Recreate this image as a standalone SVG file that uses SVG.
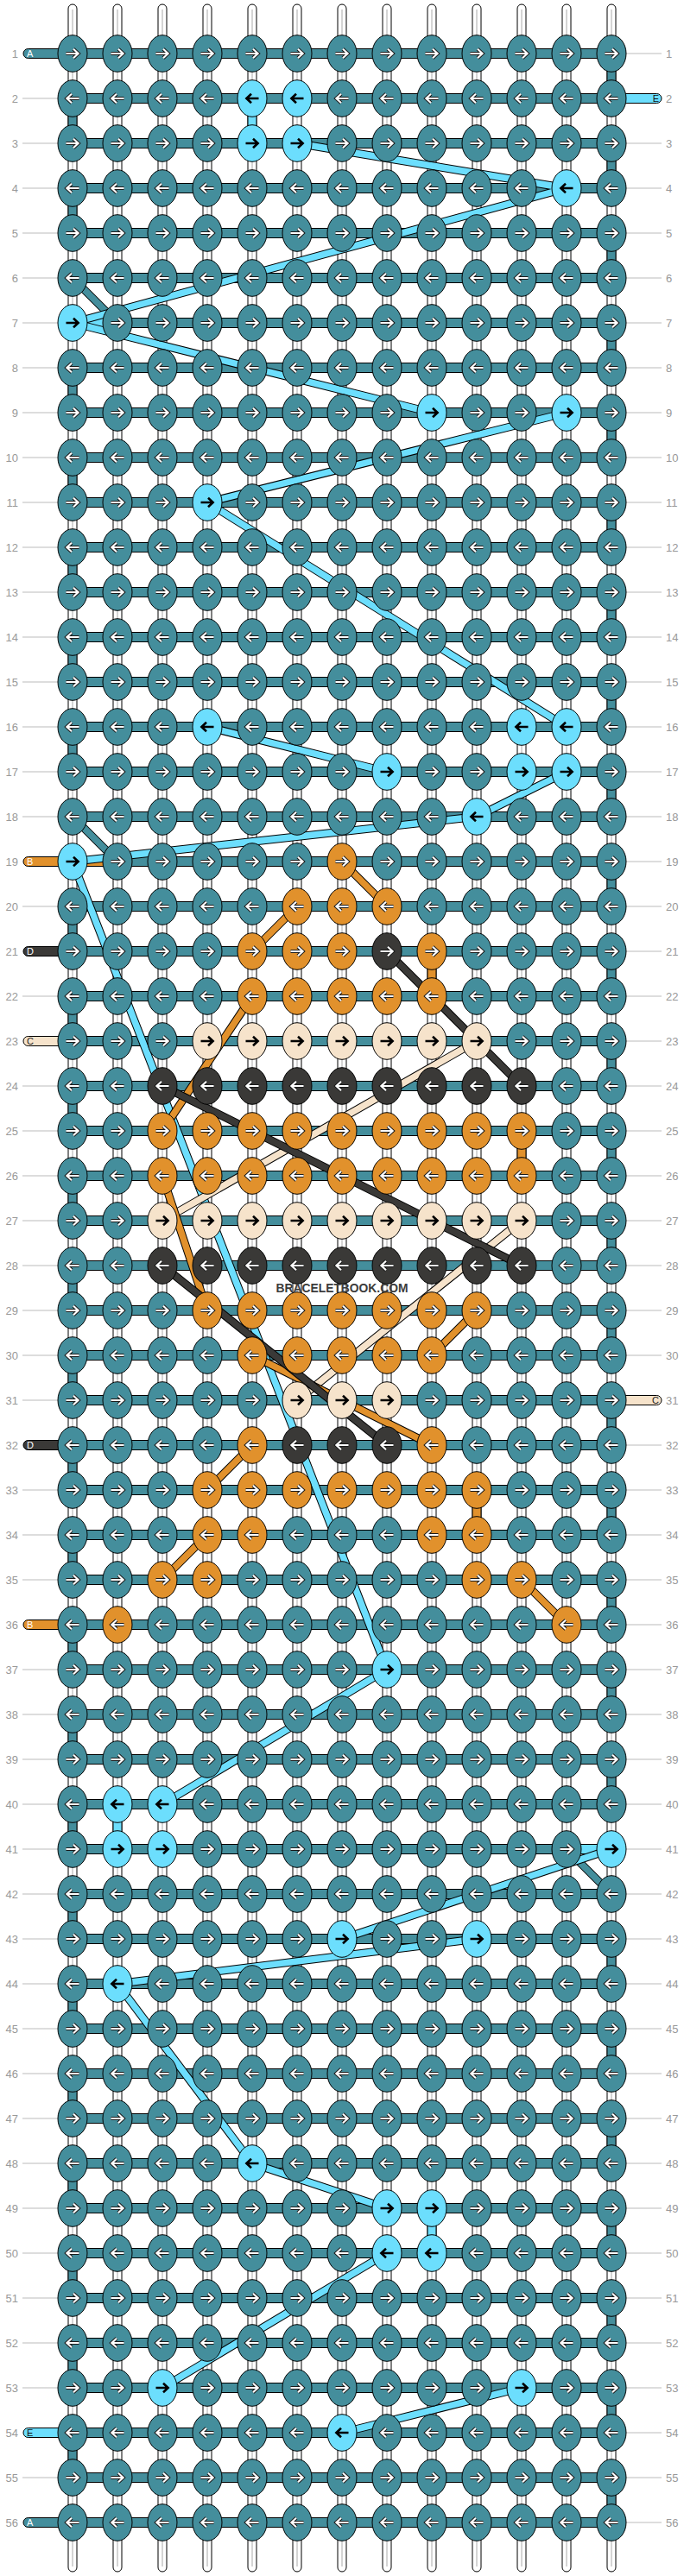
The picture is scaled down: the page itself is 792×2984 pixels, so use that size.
<svg xmlns="http://www.w3.org/2000/svg" width="792" height="2984" viewBox="0 0 792 2984">
<style>
.t{fill:#448e9c}.l{fill:#6cdefd}.o{fill:#e1912c}.c{fill:#f6e3cb}.d{fill:#3a3937}
.k{stroke:#000;stroke-width:1}
.ao{fill:none;stroke:#1a1a1a;stroke-width:4.2}
.aw{fill:none;stroke:#fff;stroke-width:2.2}
.ab{fill:none;stroke:#000;stroke-width:2.6}
.vw{fill:#fff;stroke:#000;stroke-width:1}
.cl{fill:none;stroke:#aaa;stroke-width:1}
.gl{fill:none;stroke:#bbb;stroke-width:1}
.num{font-family:"Liberation Sans",Arial,sans-serif;font-size:13px;fill:#999}
.tl{font-family:"Liberation Sans",Arial,sans-serif;font-size:11px}
.lo{fill:none;stroke:#000;stroke-width:9.5}
.li{fill:none;stroke-width:7.5}
.sT{stroke:#448e9c}.sL{stroke:#6cdefd}.sO{stroke:#e1912c}.sC{stroke:#f6e3cb}.sD{stroke:#3a3937}
.wm{font-family:"Liberation Sans",Arial,sans-serif;font-weight:bold;font-size:15px;fill:#3c3c3c}
</style>
<defs>
<path id="ar" d="M-7.5,0H6M1,-5.2L6.6,0L1,5.2"/>
<path id="al" d="M7.5,0H-6M-1,-5.2L-6.6,0L-1,5.2"/>
<g id="tR"><ellipse rx="17" ry="21.3" class="t k"/><use href="#ar" class="ao"/><use href="#ar" class="aw"/></g>
<g id="tL"><ellipse rx="17" ry="21.3" class="t k"/><use href="#al" class="ao"/><use href="#al" class="aw"/></g>
<g id="lR"><ellipse rx="17" ry="21.3" class="l k"/><use href="#ar" class="ab"/></g>
<g id="lL"><ellipse rx="17" ry="21.3" class="l k"/><use href="#al" class="ab"/></g>
<g id="oR"><ellipse rx="17" ry="21.3" class="o k"/><use href="#ar" class="ao"/><use href="#ar" class="aw"/></g>
<g id="oL"><ellipse rx="17" ry="21.3" class="o k"/><use href="#al" class="ao"/><use href="#al" class="aw"/></g>
<g id="cR"><ellipse rx="17" ry="21.3" class="c k"/><use href="#ar" class="ab"/></g>
<g id="cL"><ellipse rx="17" ry="21.3" class="c k"/><use href="#al" class="ab"/></g>
<g id="dR"><ellipse rx="17" ry="21.3" class="d k"/><use href="#ar" class="ao"/><use href="#ar" class="aw"/></g>
<g id="dL"><ellipse rx="17" ry="21.3" class="d k"/><use href="#al" class="ao"/><use href="#al" class="aw"/></g>
</defs>
<rect width="792" height="2984" fill="#fff"/>
<g id="labels">
<path class="gl" d="M26,114H67M26,166H67M26,218H67M26,270H67M26,322H67M26,374H67M26,426H67M26,478H67M26,530H67M26,582H67M26,634H67M26,686H67M26,738H67M26,790H67M26,842H67M26,894H67M26,946H67M26,1050H67M26,1154H67M26,1258H67M26,1310H67M26,1362H67M26,1414H67M26,1466H67M26,1518H67M26,1570H67M26,1622H67M26,1726H67M26,1778H67M26,1830H67M26,1934H67M26,1986H67M26,2038H67M26,2090H67M26,2142H67M26,2194H67M26,2246H67M26,2298H67M26,2350H67M26,2402H67M26,2454H67M26,2506H67M26,2558H67M26,2610H67M26,2662H67M26,2714H67M26,2766H67M26,2870H67
M725,62H766M725,166H766M725,218H766M725,270H766M725,322H766M725,374H766M725,426H766M725,478H766M725,530H766M725,582H766M725,634H766M725,686H766M725,738H766M725,790H766M725,842H766M725,894H766M725,946H766M725,998H766M725,1050H766M725,1102H766M725,1154H766M725,1206H766M725,1258H766M725,1310H766M725,1362H766M725,1414H766M725,1466H766M725,1518H766M725,1570H766M725,1674H766M725,1726H766M725,1778H766M725,1830H766M725,1882H766M725,1934H766M725,1986H766M725,2038H766M725,2090H766M725,2142H766M725,2194H766M725,2246H766M725,2298H766M725,2350H766M725,2402H766M725,2454H766M725,2506H766M725,2558H766M725,2610H766M725,2662H766M725,2714H766M725,2766H766M725,2818H766M725,2870H766M725,2922H766"/>
<g class="num" text-anchor="end">
<text x="21" y="66.5">1</text><text x="21" y="118.5">2</text><text x="21" y="170.5">3</text><text x="21" y="222.5">4</text><text x="21" y="274.5">5</text><text x="21" y="326.5">6</text><text x="21" y="378.5">7</text><text x="21" y="430.5">8</text><text x="21" y="482.5">9</text><text x="21" y="534.5">10</text><text x="21" y="586.5">11</text><text x="21" y="638.5">12</text><text x="21" y="690.5">13</text><text x="21" y="742.5">14</text><text x="21" y="794.5">15</text><text x="21" y="846.5">16</text><text x="21" y="898.5">17</text><text x="21" y="950.5">18</text><text x="21" y="1002.5">19</text><text x="21" y="1054.5">20</text><text x="21" y="1106.5">21</text><text x="21" y="1158.5">22</text><text x="21" y="1210.5">23</text><text x="21" y="1262.5">24</text><text x="21" y="1314.5">25</text><text x="21" y="1366.5">26</text><text x="21" y="1418.5">27</text><text x="21" y="1470.5">28</text><text x="21" y="1522.5">29</text><text x="21" y="1574.5">30</text><text x="21" y="1626.5">31</text><text x="21" y="1678.5">32</text><text x="21" y="1730.5">33</text><text x="21" y="1782.5">34</text><text x="21" y="1834.5">35</text><text x="21" y="1886.5">36</text><text x="21" y="1938.5">37</text><text x="21" y="1990.5">38</text><text x="21" y="2042.5">39</text><text x="21" y="2094.5">40</text><text x="21" y="2146.5">41</text><text x="21" y="2198.5">42</text><text x="21" y="2250.5">43</text><text x="21" y="2302.5">44</text><text x="21" y="2354.5">45</text><text x="21" y="2406.5">46</text><text x="21" y="2458.5">47</text><text x="21" y="2510.5">48</text><text x="21" y="2562.5">49</text><text x="21" y="2614.5">50</text><text x="21" y="2666.5">51</text><text x="21" y="2718.5">52</text><text x="21" y="2770.5">53</text><text x="21" y="2822.5">54</text><text x="21" y="2874.5">55</text><text x="21" y="2926.5">56</text>
</g>
<g class="num">
<text x="771" y="66.5">1</text><text x="771" y="118.5">2</text><text x="771" y="170.5">3</text><text x="771" y="222.5">4</text><text x="771" y="274.5">5</text><text x="771" y="326.5">6</text><text x="771" y="378.5">7</text><text x="771" y="430.5">8</text><text x="771" y="482.5">9</text><text x="771" y="534.5">10</text><text x="771" y="586.5">11</text><text x="771" y="638.5">12</text><text x="771" y="690.5">13</text><text x="771" y="742.5">14</text><text x="771" y="794.5">15</text><text x="771" y="846.5">16</text><text x="771" y="898.5">17</text><text x="771" y="950.5">18</text><text x="771" y="1002.5">19</text><text x="771" y="1054.5">20</text><text x="771" y="1106.5">21</text><text x="771" y="1158.5">22</text><text x="771" y="1210.5">23</text><text x="771" y="1262.5">24</text><text x="771" y="1314.5">25</text><text x="771" y="1366.5">26</text><text x="771" y="1418.5">27</text><text x="771" y="1470.5">28</text><text x="771" y="1522.5">29</text><text x="771" y="1574.5">30</text><text x="771" y="1626.5">31</text><text x="771" y="1678.5">32</text><text x="771" y="1730.5">33</text><text x="771" y="1782.5">34</text><text x="771" y="1834.5">35</text><text x="771" y="1886.5">36</text><text x="771" y="1938.5">37</text><text x="771" y="1990.5">38</text><text x="771" y="2042.5">39</text><text x="771" y="2094.5">40</text><text x="771" y="2146.5">41</text><text x="771" y="2198.5">42</text><text x="771" y="2250.5">43</text><text x="771" y="2302.5">44</text><text x="771" y="2354.5">45</text><text x="771" y="2406.5">46</text><text x="771" y="2458.5">47</text><text x="771" y="2510.5">48</text><text x="771" y="2562.5">49</text><text x="771" y="2614.5">50</text><text x="771" y="2666.5">51</text><text x="771" y="2718.5">52</text><text x="771" y="2770.5">53</text><text x="771" y="2822.5">54</text><text x="771" y="2874.5">55</text><text x="771" y="2926.5">56</text>
</g>
</g>
<g id="connectors">
<g id="strands">
<rect class="vw" x="79" y="5" width="10" height="2974" rx="5"/><rect class="vw" x="131" y="5" width="10" height="2974" rx="5"/><rect class="vw" x="183" y="5" width="10" height="2974" rx="5"/><rect class="vw" x="235" y="5" width="10" height="2974" rx="5"/><rect class="vw" x="287" y="5" width="10" height="2974" rx="5"/><rect class="vw" x="339" y="5" width="10" height="2974" rx="5"/><rect class="vw" x="391" y="5" width="10" height="2974" rx="5"/><rect class="vw" x="443" y="5" width="10" height="2974" rx="5"/><rect class="vw" x="495" y="5" width="10" height="2974" rx="5"/><rect class="vw" x="547" y="5" width="10" height="2974" rx="5"/><rect class="vw" x="599" y="5" width="10" height="2974" rx="5"/><rect class="vw" x="651" y="5" width="10" height="2974" rx="5"/><rect class="vw" x="703" y="5" width="10" height="2974" rx="5"/>
<path class="cl" d="M84,11V2973M136,11V2973M188,11V2973M240,11V2973M292,11V2973M344,11V2973M396,11V2973M448,11V2973M500,11V2973M552,11V2973M604,11V2973M656,11V2973M708,11V2973"/>
</g>
<g id="turns">
<path class="t k" d="M79,114h10v52h-10zM79,218h10v52h-10zM79,426h10v52h-10zM79,530h10v52h-10zM79,634h10v52h-10zM79,738h10v52h-10zM79,842h10v52h-10zM79,1050h10v52h-10zM79,1154h10v52h-10zM79,1258h10v52h-10zM79,1362h10v52h-10zM79,1466h10v52h-10zM79,1570h10v52h-10zM79,1674h10v52h-10zM79,1778h10v52h-10zM79,1882h10v52h-10zM79,1986h10v52h-10zM79,2090h10v52h-10zM79,2194h10v52h-10zM79,2298h10v52h-10zM79,2402h10v52h-10zM79,2506h10v52h-10zM79,2610h10v52h-10zM79,2714h10v52h-10zM79,2818h10v52h-10z
M703,62h10v52h-10zM703,166h10v52h-10zM703,270h10v52h-10zM703,374h10v52h-10zM703,478h10v52h-10zM703,582h10v52h-10zM703,686h10v52h-10zM703,790h10v52h-10zM703,894h10v52h-10zM703,998h10v52h-10zM703,1102h10v52h-10zM703,1206h10v52h-10zM703,1310h10v52h-10zM703,1414h10v52h-10zM703,1518h10v52h-10zM703,1622h10v52h-10zM703,1726h10v52h-10zM703,1830h10v52h-10zM703,1934h10v52h-10zM703,2038h10v52h-10zM703,2246h10v52h-10zM703,2350h10v52h-10zM703,2454h10v52h-10zM703,2558h10v52h-10zM703,2662h10v52h-10zM703,2766h10v52h-10zM703,2870h10v52h-10z"/>
<path class="l k" d="M287,114h10v52h-10zM131,2090h10v52h-10zM495,2558h10v52h-10z"/>
<path class="o k" d="M495,1102h10v52h-10zM599,1310h10v52h-10zM547,1726h10v52h-10z"/>
</g>
<g id="tails">
<rect class="t k" x="27" y="56.5" width="50" height="11" rx="5.5"/>
<rect class="o k" x="27" y="992.5" width="50" height="11" rx="5.5"/>
<rect class="d k" x="27" y="1096.5" width="50" height="11" rx="5.5"/>
<rect class="c k" x="27" y="1200.5" width="50" height="11" rx="5.5"/>
<rect class="d k" x="27" y="1668.5" width="50" height="11" rx="5.5"/>
<rect class="o k" x="27" y="1876.5" width="50" height="11" rx="5.5"/>
<rect class="l k" x="27" y="2812.5" width="50" height="11" rx="5.5"/>
<rect class="t k" x="27" y="2916.5" width="50" height="11" rx="5.5"/>
<rect class="l k" x="715" y="108.5" width="51" height="11" rx="5.5"/>
<rect class="c k" x="715" y="1616.5" width="51" height="11" rx="5.5"/>
<g class="tl">
<text x="31" y="66" fill="#fff">A</text>
<text x="31" y="1002" fill="#fff">B</text>
<text x="31" y="1106" fill="#fff">D</text>
<text x="31" y="1210" fill="#222">C</text>
<text x="31" y="1678" fill="#fff">D</text>
<text x="31" y="1886" fill="#fff">B</text>
<text x="31" y="2822" fill="#111">E</text>
<text x="31" y="2926" fill="#fff">A</text>
<text x="763" y="118" fill="#111" text-anchor="end">E</text>
<text x="763" y="1626" fill="#222" text-anchor="end">C</text>
</g>
</g>
<path id="rows" class="t k" d="M84,56.5h624v11h-624zm0,52h624v11h-624zm0,52h624v11h-624zm0,52h624v11h-624zm0,52h624v11h-624zm0,52h624v11h-624zm0,52h624v11h-624zm0,52h624v11h-624zm0,52h624v11h-624zm0,52h624v11h-624zm0,52h624v11h-624zm0,52h624v11h-624zm0,52h624v11h-624zm0,52h624v11h-624zm0,52h624v11h-624zm0,52h624v11h-624zm0,52h624v11h-624zm0,52h624v11h-624zm0,52h624v11h-624zm0,52h624v11h-624zm0,52h624v11h-624zm0,52h624v11h-624zm0,52h624v11h-624zm0,52h624v11h-624zm0,52h624v11h-624zm0,52h624v11h-624zm0,52h624v11h-624zm0,52h624v11h-624zm0,52h624v11h-624zm0,52h624v11h-624zm0,52h624v11h-624zm0,52h624v11h-624zm0,52h624v11h-624zm0,52h624v11h-624zm0,52h624v11h-624zm0,52h624v11h-624zm0,52h624v11h-624zm0,52h624v11h-624zm0,52h624v11h-624zm0,52h624v11h-624zm0,52h624v11h-624zm0,52h624v11h-624zm0,52h624v11h-624zm0,52h624v11h-624zm0,52h624v11h-624zm0,52h624v11h-624zm0,52h624v11h-624zm0,52h624v11h-624zm0,52h624v11h-624zm0,52h624v11h-624zm0,52h624v11h-624zm0,52h624v11h-624zm0,52h624v11h-624zm0,52h624v11h-624zm0,52h624v11h-624zm0,52h624v11h-624z"/>
<rect class="o k" x="84" y="992.5" width="52" height="11"/>
<rect class="l k" x="84" y="368.5" width="52" height="11"/>
<rect class="l k" x="656" y="2136.5" width="52" height="11"/>
<g id="threadA">
<path class="lo" d="M84,322L136,374M84,946L136,998M656,2142L708,2194"/>
<path class="li sT" d="M84,322L136,374M84,946L136,998M656,2142L708,2194"/>
</g>
<g id="threadE">
<path class="lo" d="M344,166L656,218M656,218L84,374M84,374L500,478M656,478L240,582M240,582L656,842M240,842L448,894M656,894L552,946M552,946L84,998M84,998L448,1934M448,1934L188,2090M708,2142L396,2246M552,2246L136,2298M136,2298L292,2506M292,2506L448,2558M448,2610L188,2766M604,2766L396,2818"/>
<path class="li sL" d="M344,166L656,218M656,218L84,374M84,374L500,478M656,478L240,582M240,582L656,842M240,842L448,894M656,894L552,946M552,946L84,998M84,998L448,1934M448,1934L188,2090M708,2142L396,2246M552,2246L136,2298M136,2298L292,2506M292,2506L448,2558M448,2610L188,2766M604,2766L396,2818"/>
</g>
<g id="threadC">
<path class="lo" d="M552,1206L188,1414M604,1414L344,1622"/>
<path class="li sC" d="M552,1206L188,1414M604,1414L344,1622"/>
</g>
<g id="threadB">
<path class="lo" d="M396,998L448,1050M344,1050L292,1102M292,1154L188,1310M188,1362L240,1518M552,1518L500,1570M292,1570L396,1622M396,1622L500,1674M292,1674L240,1726M240,1778L188,1830M604,1830L656,1882"/>
<path class="li sO" d="M396,998L448,1050M344,1050L292,1102M292,1154L188,1310M188,1362L240,1518M552,1518L500,1570M292,1570L396,1622M396,1622L500,1674M292,1674L240,1726M240,1778L188,1830M604,1830L656,1882"/>
</g>
<g id="threadD">
<path class="lo" d="M448,1102L604,1258M188,1258L604,1466M188,1466L448,1674"/>
<path class="li sD" d="M448,1102L604,1258M188,1258L604,1466M188,1466L448,1674"/>
</g>
</g>
<g id="nodes">
<g id="row1" transform="translate(0,62)"><g id="n1-1"><use href="#tR" x="84"/></g><g id="n1-2"><use href="#tR" x="136"/></g><g id="n1-3"><use href="#tR" x="188"/></g><g id="n1-4"><use href="#tR" x="240"/></g><g id="n1-5"><use href="#tR" x="292"/></g><g id="n1-6"><use href="#tR" x="344"/></g><g id="n1-7"><use href="#tR" x="396"/></g><g id="n1-8"><use href="#tR" x="448"/></g><g id="n1-9"><use href="#tR" x="500"/></g><g id="n1-10"><use href="#tR" x="552"/></g><g id="n1-11"><use href="#tR" x="604"/></g><g id="n1-12"><use href="#tR" x="656"/></g><g id="n1-13"><use href="#tR" x="708"/></g></g>
<g id="row2" transform="translate(0,114)"><g id="n2-1"><use href="#tL" x="84"/></g><g id="n2-2"><use href="#tL" x="136"/></g><g id="n2-3"><use href="#tL" x="188"/></g><g id="n2-4"><use href="#tL" x="240"/></g><g id="n2-5"><use href="#lL" x="292"/></g><g id="n2-6"><use href="#lL" x="344"/></g><g id="n2-7"><use href="#tL" x="396"/></g><g id="n2-8"><use href="#tL" x="448"/></g><g id="n2-9"><use href="#tL" x="500"/></g><g id="n2-10"><use href="#tL" x="552"/></g><g id="n2-11"><use href="#tL" x="604"/></g><g id="n2-12"><use href="#tL" x="656"/></g><g id="n2-13"><use href="#tL" x="708"/></g></g>
<g id="row3" transform="translate(0,166)"><g id="n3-1"><use href="#tR" x="84"/></g><g id="n3-2"><use href="#tR" x="136"/></g><g id="n3-3"><use href="#tR" x="188"/></g><g id="n3-4"><use href="#tR" x="240"/></g><g id="n3-5"><use href="#lR" x="292"/></g><g id="n3-6"><use href="#lR" x="344"/></g><g id="n3-7"><use href="#tR" x="396"/></g><g id="n3-8"><use href="#tR" x="448"/></g><g id="n3-9"><use href="#tR" x="500"/></g><g id="n3-10"><use href="#tR" x="552"/></g><g id="n3-11"><use href="#tR" x="604"/></g><g id="n3-12"><use href="#tR" x="656"/></g><g id="n3-13"><use href="#tR" x="708"/></g></g>
<g id="row4" transform="translate(0,218)"><g id="n4-1"><use href="#tL" x="84"/></g><g id="n4-2"><use href="#tL" x="136"/></g><g id="n4-3"><use href="#tL" x="188"/></g><g id="n4-4"><use href="#tL" x="240"/></g><g id="n4-5"><use href="#tL" x="292"/></g><g id="n4-6"><use href="#tL" x="344"/></g><g id="n4-7"><use href="#tL" x="396"/></g><g id="n4-8"><use href="#tL" x="448"/></g><g id="n4-9"><use href="#tL" x="500"/></g><g id="n4-10"><use href="#tL" x="552"/></g><g id="n4-11"><use href="#tL" x="604"/></g><g id="n4-12"><use href="#lL" x="656"/></g><g id="n4-13"><use href="#tL" x="708"/></g></g>
<g id="row5" transform="translate(0,270)"><g id="n5-1"><use href="#tR" x="84"/></g><g id="n5-2"><use href="#tR" x="136"/></g><g id="n5-3"><use href="#tR" x="188"/></g><g id="n5-4"><use href="#tR" x="240"/></g><g id="n5-5"><use href="#tR" x="292"/></g><g id="n5-6"><use href="#tR" x="344"/></g><g id="n5-7"><use href="#tR" x="396"/></g><g id="n5-8"><use href="#tR" x="448"/></g><g id="n5-9"><use href="#tR" x="500"/></g><g id="n5-10"><use href="#tR" x="552"/></g><g id="n5-11"><use href="#tR" x="604"/></g><g id="n5-12"><use href="#tR" x="656"/></g><g id="n5-13"><use href="#tR" x="708"/></g></g>
<g id="row6" transform="translate(0,322)"><g id="n6-1"><use href="#tL" x="84"/></g><g id="n6-2"><use href="#tL" x="136"/></g><g id="n6-3"><use href="#tL" x="188"/></g><g id="n6-4"><use href="#tL" x="240"/></g><g id="n6-5"><use href="#tL" x="292"/></g><g id="n6-6"><use href="#tL" x="344"/></g><g id="n6-7"><use href="#tL" x="396"/></g><g id="n6-8"><use href="#tL" x="448"/></g><g id="n6-9"><use href="#tL" x="500"/></g><g id="n6-10"><use href="#tL" x="552"/></g><g id="n6-11"><use href="#tL" x="604"/></g><g id="n6-12"><use href="#tL" x="656"/></g><g id="n6-13"><use href="#tL" x="708"/></g></g>
<g id="row7" transform="translate(0,374)"><g id="n7-1"><use href="#lR" x="84"/></g><g id="n7-2"><use href="#tR" x="136"/></g><g id="n7-3"><use href="#tR" x="188"/></g><g id="n7-4"><use href="#tR" x="240"/></g><g id="n7-5"><use href="#tR" x="292"/></g><g id="n7-6"><use href="#tR" x="344"/></g><g id="n7-7"><use href="#tR" x="396"/></g><g id="n7-8"><use href="#tR" x="448"/></g><g id="n7-9"><use href="#tR" x="500"/></g><g id="n7-10"><use href="#tR" x="552"/></g><g id="n7-11"><use href="#tR" x="604"/></g><g id="n7-12"><use href="#tR" x="656"/></g><g id="n7-13"><use href="#tR" x="708"/></g></g>
<g id="row8" transform="translate(0,426)"><g id="n8-1"><use href="#tL" x="84"/></g><g id="n8-2"><use href="#tL" x="136"/></g><g id="n8-3"><use href="#tL" x="188"/></g><g id="n8-4"><use href="#tL" x="240"/></g><g id="n8-5"><use href="#tL" x="292"/></g><g id="n8-6"><use href="#tL" x="344"/></g><g id="n8-7"><use href="#tL" x="396"/></g><g id="n8-8"><use href="#tL" x="448"/></g><g id="n8-9"><use href="#tL" x="500"/></g><g id="n8-10"><use href="#tL" x="552"/></g><g id="n8-11"><use href="#tL" x="604"/></g><g id="n8-12"><use href="#tL" x="656"/></g><g id="n8-13"><use href="#tL" x="708"/></g></g>
<g id="row9" transform="translate(0,478)"><g id="n9-1"><use href="#tR" x="84"/></g><g id="n9-2"><use href="#tR" x="136"/></g><g id="n9-3"><use href="#tR" x="188"/></g><g id="n9-4"><use href="#tR" x="240"/></g><g id="n9-5"><use href="#tR" x="292"/></g><g id="n9-6"><use href="#tR" x="344"/></g><g id="n9-7"><use href="#tR" x="396"/></g><g id="n9-8"><use href="#tR" x="448"/></g><g id="n9-9"><use href="#lR" x="500"/></g><g id="n9-10"><use href="#tR" x="552"/></g><g id="n9-11"><use href="#tR" x="604"/></g><g id="n9-12"><use href="#lR" x="656"/></g><g id="n9-13"><use href="#tR" x="708"/></g></g>
<g id="row10" transform="translate(0,530)"><g id="n10-1"><use href="#tL" x="84"/></g><g id="n10-2"><use href="#tL" x="136"/></g><g id="n10-3"><use href="#tL" x="188"/></g><g id="n10-4"><use href="#tL" x="240"/></g><g id="n10-5"><use href="#tL" x="292"/></g><g id="n10-6"><use href="#tL" x="344"/></g><g id="n10-7"><use href="#tL" x="396"/></g><g id="n10-8"><use href="#tL" x="448"/></g><g id="n10-9"><use href="#tL" x="500"/></g><g id="n10-10"><use href="#tL" x="552"/></g><g id="n10-11"><use href="#tL" x="604"/></g><g id="n10-12"><use href="#tL" x="656"/></g><g id="n10-13"><use href="#tL" x="708"/></g></g>
<g id="row11" transform="translate(0,582)"><g id="n11-1"><use href="#tR" x="84"/></g><g id="n11-2"><use href="#tR" x="136"/></g><g id="n11-3"><use href="#tR" x="188"/></g><g id="n11-4"><use href="#lR" x="240"/></g><g id="n11-5"><use href="#tR" x="292"/></g><g id="n11-6"><use href="#tR" x="344"/></g><g id="n11-7"><use href="#tR" x="396"/></g><g id="n11-8"><use href="#tR" x="448"/></g><g id="n11-9"><use href="#tR" x="500"/></g><g id="n11-10"><use href="#tR" x="552"/></g><g id="n11-11"><use href="#tR" x="604"/></g><g id="n11-12"><use href="#tR" x="656"/></g><g id="n11-13"><use href="#tR" x="708"/></g></g>
<g id="row12" transform="translate(0,634)"><g id="n12-1"><use href="#tL" x="84"/></g><g id="n12-2"><use href="#tL" x="136"/></g><g id="n12-3"><use href="#tL" x="188"/></g><g id="n12-4"><use href="#tL" x="240"/></g><g id="n12-5"><use href="#tL" x="292"/></g><g id="n12-6"><use href="#tL" x="344"/></g><g id="n12-7"><use href="#tL" x="396"/></g><g id="n12-8"><use href="#tL" x="448"/></g><g id="n12-9"><use href="#tL" x="500"/></g><g id="n12-10"><use href="#tL" x="552"/></g><g id="n12-11"><use href="#tL" x="604"/></g><g id="n12-12"><use href="#tL" x="656"/></g><g id="n12-13"><use href="#tL" x="708"/></g></g>
<g id="row13" transform="translate(0,686)"><g id="n13-1"><use href="#tR" x="84"/></g><g id="n13-2"><use href="#tR" x="136"/></g><g id="n13-3"><use href="#tR" x="188"/></g><g id="n13-4"><use href="#tR" x="240"/></g><g id="n13-5"><use href="#tR" x="292"/></g><g id="n13-6"><use href="#tR" x="344"/></g><g id="n13-7"><use href="#tR" x="396"/></g><g id="n13-8"><use href="#tR" x="448"/></g><g id="n13-9"><use href="#tR" x="500"/></g><g id="n13-10"><use href="#tR" x="552"/></g><g id="n13-11"><use href="#tR" x="604"/></g><g id="n13-12"><use href="#tR" x="656"/></g><g id="n13-13"><use href="#tR" x="708"/></g></g>
<g id="row14" transform="translate(0,738)"><g id="n14-1"><use href="#tL" x="84"/></g><g id="n14-2"><use href="#tL" x="136"/></g><g id="n14-3"><use href="#tL" x="188"/></g><g id="n14-4"><use href="#tL" x="240"/></g><g id="n14-5"><use href="#tL" x="292"/></g><g id="n14-6"><use href="#tL" x="344"/></g><g id="n14-7"><use href="#tL" x="396"/></g><g id="n14-8"><use href="#tL" x="448"/></g><g id="n14-9"><use href="#tL" x="500"/></g><g id="n14-10"><use href="#tL" x="552"/></g><g id="n14-11"><use href="#tL" x="604"/></g><g id="n14-12"><use href="#tL" x="656"/></g><g id="n14-13"><use href="#tL" x="708"/></g></g>
<g id="row15" transform="translate(0,790)"><g id="n15-1"><use href="#tR" x="84"/></g><g id="n15-2"><use href="#tR" x="136"/></g><g id="n15-3"><use href="#tR" x="188"/></g><g id="n15-4"><use href="#tR" x="240"/></g><g id="n15-5"><use href="#tR" x="292"/></g><g id="n15-6"><use href="#tR" x="344"/></g><g id="n15-7"><use href="#tR" x="396"/></g><g id="n15-8"><use href="#tR" x="448"/></g><g id="n15-9"><use href="#tR" x="500"/></g><g id="n15-10"><use href="#tR" x="552"/></g><g id="n15-11"><use href="#tR" x="604"/></g><g id="n15-12"><use href="#tR" x="656"/></g><g id="n15-13"><use href="#tR" x="708"/></g></g>
<g id="row16" transform="translate(0,842)"><g id="n16-1"><use href="#tL" x="84"/></g><g id="n16-2"><use href="#tL" x="136"/></g><g id="n16-3"><use href="#tL" x="188"/></g><g id="n16-4"><use href="#lL" x="240"/></g><g id="n16-5"><use href="#tL" x="292"/></g><g id="n16-6"><use href="#tL" x="344"/></g><g id="n16-7"><use href="#tL" x="396"/></g><g id="n16-8"><use href="#tL" x="448"/></g><g id="n16-9"><use href="#tL" x="500"/></g><g id="n16-10"><use href="#tL" x="552"/></g><g id="n16-11"><use href="#lL" x="604"/></g><g id="n16-12"><use href="#lL" x="656"/></g><g id="n16-13"><use href="#tL" x="708"/></g></g>
<g id="row17" transform="translate(0,894)"><g id="n17-1"><use href="#tR" x="84"/></g><g id="n17-2"><use href="#tR" x="136"/></g><g id="n17-3"><use href="#tR" x="188"/></g><g id="n17-4"><use href="#tR" x="240"/></g><g id="n17-5"><use href="#tR" x="292"/></g><g id="n17-6"><use href="#tR" x="344"/></g><g id="n17-7"><use href="#tR" x="396"/></g><g id="n17-8"><use href="#lR" x="448"/></g><g id="n17-9"><use href="#tR" x="500"/></g><g id="n17-10"><use href="#tR" x="552"/></g><g id="n17-11"><use href="#lR" x="604"/></g><g id="n17-12"><use href="#lR" x="656"/></g><g id="n17-13"><use href="#tR" x="708"/></g></g>
<g id="row18" transform="translate(0,946)"><g id="n18-1"><use href="#tL" x="84"/></g><g id="n18-2"><use href="#tL" x="136"/></g><g id="n18-3"><use href="#tL" x="188"/></g><g id="n18-4"><use href="#tL" x="240"/></g><g id="n18-5"><use href="#tL" x="292"/></g><g id="n18-6"><use href="#tL" x="344"/></g><g id="n18-7"><use href="#tL" x="396"/></g><g id="n18-8"><use href="#tL" x="448"/></g><g id="n18-9"><use href="#tL" x="500"/></g><g id="n18-10"><use href="#lL" x="552"/></g><g id="n18-11"><use href="#tL" x="604"/></g><g id="n18-12"><use href="#tL" x="656"/></g><g id="n18-13"><use href="#tL" x="708"/></g></g>
<g id="row19" transform="translate(0,998)"><g id="n19-1"><use href="#lR" x="84"/></g><g id="n19-2"><use href="#tR" x="136"/></g><g id="n19-3"><use href="#tR" x="188"/></g><g id="n19-4"><use href="#tR" x="240"/></g><g id="n19-5"><use href="#tR" x="292"/></g><g id="n19-6"><use href="#tR" x="344"/></g><g id="n19-7"><use href="#oR" x="396"/></g><g id="n19-8"><use href="#tR" x="448"/></g><g id="n19-9"><use href="#tR" x="500"/></g><g id="n19-10"><use href="#tR" x="552"/></g><g id="n19-11"><use href="#tR" x="604"/></g><g id="n19-12"><use href="#tR" x="656"/></g><g id="n19-13"><use href="#tR" x="708"/></g></g>
<g id="row20" transform="translate(0,1050)"><g id="n20-1"><use href="#tL" x="84"/></g><g id="n20-2"><use href="#tL" x="136"/></g><g id="n20-3"><use href="#tL" x="188"/></g><g id="n20-4"><use href="#tL" x="240"/></g><g id="n20-5"><use href="#tL" x="292"/></g><g id="n20-6"><use href="#oL" x="344"/></g><g id="n20-7"><use href="#oL" x="396"/></g><g id="n20-8"><use href="#oL" x="448"/></g><g id="n20-9"><use href="#tL" x="500"/></g><g id="n20-10"><use href="#tL" x="552"/></g><g id="n20-11"><use href="#tL" x="604"/></g><g id="n20-12"><use href="#tL" x="656"/></g><g id="n20-13"><use href="#tL" x="708"/></g></g>
<g id="row21" transform="translate(0,1102)"><g id="n21-1"><use href="#tR" x="84"/></g><g id="n21-2"><use href="#tR" x="136"/></g><g id="n21-3"><use href="#tR" x="188"/></g><g id="n21-4"><use href="#tR" x="240"/></g><g id="n21-5"><use href="#oR" x="292"/></g><g id="n21-6"><use href="#oR" x="344"/></g><g id="n21-7"><use href="#oR" x="396"/></g><g id="n21-8"><use href="#dR" x="448"/></g><g id="n21-9"><use href="#oR" x="500"/></g><g id="n21-10"><use href="#tR" x="552"/></g><g id="n21-11"><use href="#tR" x="604"/></g><g id="n21-12"><use href="#tR" x="656"/></g><g id="n21-13"><use href="#tR" x="708"/></g></g>
<g id="row22" transform="translate(0,1154)"><g id="n22-1"><use href="#tL" x="84"/></g><g id="n22-2"><use href="#tL" x="136"/></g><g id="n22-3"><use href="#tL" x="188"/></g><g id="n22-4"><use href="#tL" x="240"/></g><g id="n22-5"><use href="#oL" x="292"/></g><g id="n22-6"><use href="#oL" x="344"/></g><g id="n22-7"><use href="#oL" x="396"/></g><g id="n22-8"><use href="#oL" x="448"/></g><g id="n22-9"><use href="#oL" x="500"/></g><g id="n22-10"><use href="#tL" x="552"/></g><g id="n22-11"><use href="#tL" x="604"/></g><g id="n22-12"><use href="#tL" x="656"/></g><g id="n22-13"><use href="#tL" x="708"/></g></g>
<g id="row23" transform="translate(0,1206)"><g id="n23-1"><use href="#tR" x="84"/></g><g id="n23-2"><use href="#tR" x="136"/></g><g id="n23-3"><use href="#tR" x="188"/></g><g id="n23-4"><use href="#cR" x="240"/></g><g id="n23-5"><use href="#cR" x="292"/></g><g id="n23-6"><use href="#cR" x="344"/></g><g id="n23-7"><use href="#cR" x="396"/></g><g id="n23-8"><use href="#cR" x="448"/></g><g id="n23-9"><use href="#cR" x="500"/></g><g id="n23-10"><use href="#cR" x="552"/></g><g id="n23-11"><use href="#tR" x="604"/></g><g id="n23-12"><use href="#tR" x="656"/></g><g id="n23-13"><use href="#tR" x="708"/></g></g>
<g id="row24" transform="translate(0,1258)"><g id="n24-1"><use href="#tL" x="84"/></g><g id="n24-2"><use href="#tL" x="136"/></g><g id="n24-3"><use href="#dL" x="188"/></g><g id="n24-4"><use href="#dL" x="240"/></g><g id="n24-5"><use href="#dL" x="292"/></g><g id="n24-6"><use href="#dL" x="344"/></g><g id="n24-7"><use href="#dL" x="396"/></g><g id="n24-8"><use href="#dL" x="448"/></g><g id="n24-9"><use href="#dL" x="500"/></g><g id="n24-10"><use href="#dL" x="552"/></g><g id="n24-11"><use href="#dL" x="604"/></g><g id="n24-12"><use href="#tL" x="656"/></g><g id="n24-13"><use href="#tL" x="708"/></g></g>
<g id="row25" transform="translate(0,1310)"><g id="n25-1"><use href="#tR" x="84"/></g><g id="n25-2"><use href="#tR" x="136"/></g><g id="n25-3"><use href="#oR" x="188"/></g><g id="n25-4"><use href="#oR" x="240"/></g><g id="n25-5"><use href="#oR" x="292"/></g><g id="n25-6"><use href="#oR" x="344"/></g><g id="n25-7"><use href="#oR" x="396"/></g><g id="n25-8"><use href="#oR" x="448"/></g><g id="n25-9"><use href="#oR" x="500"/></g><g id="n25-10"><use href="#oR" x="552"/></g><g id="n25-11"><use href="#oR" x="604"/></g><g id="n25-12"><use href="#tR" x="656"/></g><g id="n25-13"><use href="#tR" x="708"/></g></g>
<g id="row26" transform="translate(0,1362)"><g id="n26-1"><use href="#tL" x="84"/></g><g id="n26-2"><use href="#tL" x="136"/></g><g id="n26-3"><use href="#oL" x="188"/></g><g id="n26-4"><use href="#oL" x="240"/></g><g id="n26-5"><use href="#oL" x="292"/></g><g id="n26-6"><use href="#oL" x="344"/></g><g id="n26-7"><use href="#oL" x="396"/></g><g id="n26-8"><use href="#oL" x="448"/></g><g id="n26-9"><use href="#oL" x="500"/></g><g id="n26-10"><use href="#oL" x="552"/></g><g id="n26-11"><use href="#oL" x="604"/></g><g id="n26-12"><use href="#tL" x="656"/></g><g id="n26-13"><use href="#tL" x="708"/></g></g>
<g id="row27" transform="translate(0,1414)"><g id="n27-1"><use href="#tR" x="84"/></g><g id="n27-2"><use href="#tR" x="136"/></g><g id="n27-3"><use href="#cR" x="188"/></g><g id="n27-4"><use href="#cR" x="240"/></g><g id="n27-5"><use href="#cR" x="292"/></g><g id="n27-6"><use href="#cR" x="344"/></g><g id="n27-7"><use href="#cR" x="396"/></g><g id="n27-8"><use href="#cR" x="448"/></g><g id="n27-9"><use href="#cR" x="500"/></g><g id="n27-10"><use href="#cR" x="552"/></g><g id="n27-11"><use href="#cR" x="604"/></g><g id="n27-12"><use href="#tR" x="656"/></g><g id="n27-13"><use href="#tR" x="708"/></g></g>
<g id="row28" transform="translate(0,1466)"><g id="n28-1"><use href="#tL" x="84"/></g><g id="n28-2"><use href="#tL" x="136"/></g><g id="n28-3"><use href="#dL" x="188"/></g><g id="n28-4"><use href="#dL" x="240"/></g><g id="n28-5"><use href="#dL" x="292"/></g><g id="n28-6"><use href="#dL" x="344"/></g><g id="n28-7"><use href="#dL" x="396"/></g><g id="n28-8"><use href="#dL" x="448"/></g><g id="n28-9"><use href="#dL" x="500"/></g><g id="n28-10"><use href="#dL" x="552"/></g><g id="n28-11"><use href="#dL" x="604"/></g><g id="n28-12"><use href="#tL" x="656"/></g><g id="n28-13"><use href="#tL" x="708"/></g></g>
<g id="row29" transform="translate(0,1518)"><g id="n29-1"><use href="#tR" x="84"/></g><g id="n29-2"><use href="#tR" x="136"/></g><g id="n29-3"><use href="#tR" x="188"/></g><g id="n29-4"><use href="#oR" x="240"/></g><g id="n29-5"><use href="#oR" x="292"/></g><g id="n29-6"><use href="#oR" x="344"/></g><g id="n29-7"><use href="#oR" x="396"/></g><g id="n29-8"><use href="#oR" x="448"/></g><g id="n29-9"><use href="#oR" x="500"/></g><g id="n29-10"><use href="#oR" x="552"/></g><g id="n29-11"><use href="#tR" x="604"/></g><g id="n29-12"><use href="#tR" x="656"/></g><g id="n29-13"><use href="#tR" x="708"/></g></g>
<g id="row30" transform="translate(0,1570)"><g id="n30-1"><use href="#tL" x="84"/></g><g id="n30-2"><use href="#tL" x="136"/></g><g id="n30-3"><use href="#tL" x="188"/></g><g id="n30-4"><use href="#tL" x="240"/></g><g id="n30-5"><use href="#oL" x="292"/></g><g id="n30-6"><use href="#oL" x="344"/></g><g id="n30-7"><use href="#oL" x="396"/></g><g id="n30-8"><use href="#oL" x="448"/></g><g id="n30-9"><use href="#oL" x="500"/></g><g id="n30-10"><use href="#tL" x="552"/></g><g id="n30-11"><use href="#tL" x="604"/></g><g id="n30-12"><use href="#tL" x="656"/></g><g id="n30-13"><use href="#tL" x="708"/></g></g>
<g id="row31" transform="translate(0,1622)"><g id="n31-1"><use href="#tR" x="84"/></g><g id="n31-2"><use href="#tR" x="136"/></g><g id="n31-3"><use href="#tR" x="188"/></g><g id="n31-4"><use href="#tR" x="240"/></g><g id="n31-5"><use href="#tR" x="292"/></g><g id="n31-6"><use href="#cR" x="344"/></g><g id="n31-7"><use href="#cR" x="396"/></g><g id="n31-8"><use href="#cR" x="448"/></g><g id="n31-9"><use href="#tR" x="500"/></g><g id="n31-10"><use href="#tR" x="552"/></g><g id="n31-11"><use href="#tR" x="604"/></g><g id="n31-12"><use href="#tR" x="656"/></g><g id="n31-13"><use href="#tR" x="708"/></g></g>
<g id="row32" transform="translate(0,1674)"><g id="n32-1"><use href="#tL" x="84"/></g><g id="n32-2"><use href="#tL" x="136"/></g><g id="n32-3"><use href="#tL" x="188"/></g><g id="n32-4"><use href="#tL" x="240"/></g><g id="n32-5"><use href="#oL" x="292"/></g><g id="n32-6"><use href="#dL" x="344"/></g><g id="n32-7"><use href="#dL" x="396"/></g><g id="n32-8"><use href="#dL" x="448"/></g><g id="n32-9"><use href="#oL" x="500"/></g><g id="n32-10"><use href="#tL" x="552"/></g><g id="n32-11"><use href="#tL" x="604"/></g><g id="n32-12"><use href="#tL" x="656"/></g><g id="n32-13"><use href="#tL" x="708"/></g></g>
<g id="row33" transform="translate(0,1726)"><g id="n33-1"><use href="#tR" x="84"/></g><g id="n33-2"><use href="#tR" x="136"/></g><g id="n33-3"><use href="#tR" x="188"/></g><g id="n33-4"><use href="#oR" x="240"/></g><g id="n33-5"><use href="#oR" x="292"/></g><g id="n33-6"><use href="#oR" x="344"/></g><g id="n33-7"><use href="#oR" x="396"/></g><g id="n33-8"><use href="#oR" x="448"/></g><g id="n33-9"><use href="#oR" x="500"/></g><g id="n33-10"><use href="#oR" x="552"/></g><g id="n33-11"><use href="#tR" x="604"/></g><g id="n33-12"><use href="#tR" x="656"/></g><g id="n33-13"><use href="#tR" x="708"/></g></g>
<g id="row34" transform="translate(0,1778)"><g id="n34-1"><use href="#tL" x="84"/></g><g id="n34-2"><use href="#tL" x="136"/></g><g id="n34-3"><use href="#tL" x="188"/></g><g id="n34-4"><use href="#oL" x="240"/></g><g id="n34-5"><use href="#oL" x="292"/></g><g id="n34-6"><use href="#tL" x="344"/></g><g id="n34-7"><use href="#tL" x="396"/></g><g id="n34-8"><use href="#tL" x="448"/></g><g id="n34-9"><use href="#oL" x="500"/></g><g id="n34-10"><use href="#oL" x="552"/></g><g id="n34-11"><use href="#tL" x="604"/></g><g id="n34-12"><use href="#tL" x="656"/></g><g id="n34-13"><use href="#tL" x="708"/></g></g>
<g id="row35" transform="translate(0,1830)"><g id="n35-1"><use href="#tR" x="84"/></g><g id="n35-2"><use href="#tR" x="136"/></g><g id="n35-3"><use href="#oR" x="188"/></g><g id="n35-4"><use href="#oR" x="240"/></g><g id="n35-5"><use href="#tR" x="292"/></g><g id="n35-6"><use href="#tR" x="344"/></g><g id="n35-7"><use href="#tR" x="396"/></g><g id="n35-8"><use href="#tR" x="448"/></g><g id="n35-9"><use href="#tR" x="500"/></g><g id="n35-10"><use href="#oR" x="552"/></g><g id="n35-11"><use href="#oR" x="604"/></g><g id="n35-12"><use href="#tR" x="656"/></g><g id="n35-13"><use href="#tR" x="708"/></g></g>
<g id="row36" transform="translate(0,1882)"><g id="n36-1"><use href="#tL" x="84"/></g><g id="n36-2"><use href="#oL" x="136"/></g><g id="n36-3"><use href="#tL" x="188"/></g><g id="n36-4"><use href="#tL" x="240"/></g><g id="n36-5"><use href="#tL" x="292"/></g><g id="n36-6"><use href="#tL" x="344"/></g><g id="n36-7"><use href="#tL" x="396"/></g><g id="n36-8"><use href="#tL" x="448"/></g><g id="n36-9"><use href="#tL" x="500"/></g><g id="n36-10"><use href="#tL" x="552"/></g><g id="n36-11"><use href="#tL" x="604"/></g><g id="n36-12"><use href="#oL" x="656"/></g><g id="n36-13"><use href="#tL" x="708"/></g></g>
<g id="row37" transform="translate(0,1934)"><g id="n37-1"><use href="#tR" x="84"/></g><g id="n37-2"><use href="#tR" x="136"/></g><g id="n37-3"><use href="#tR" x="188"/></g><g id="n37-4"><use href="#tR" x="240"/></g><g id="n37-5"><use href="#tR" x="292"/></g><g id="n37-6"><use href="#tR" x="344"/></g><g id="n37-7"><use href="#tR" x="396"/></g><g id="n37-8"><use href="#lR" x="448"/></g><g id="n37-9"><use href="#tR" x="500"/></g><g id="n37-10"><use href="#tR" x="552"/></g><g id="n37-11"><use href="#tR" x="604"/></g><g id="n37-12"><use href="#tR" x="656"/></g><g id="n37-13"><use href="#tR" x="708"/></g></g>
<g id="row38" transform="translate(0,1986)"><g id="n38-1"><use href="#tL" x="84"/></g><g id="n38-2"><use href="#tL" x="136"/></g><g id="n38-3"><use href="#tL" x="188"/></g><g id="n38-4"><use href="#tL" x="240"/></g><g id="n38-5"><use href="#tL" x="292"/></g><g id="n38-6"><use href="#tL" x="344"/></g><g id="n38-7"><use href="#tL" x="396"/></g><g id="n38-8"><use href="#tL" x="448"/></g><g id="n38-9"><use href="#tL" x="500"/></g><g id="n38-10"><use href="#tL" x="552"/></g><g id="n38-11"><use href="#tL" x="604"/></g><g id="n38-12"><use href="#tL" x="656"/></g><g id="n38-13"><use href="#tL" x="708"/></g></g>
<g id="row39" transform="translate(0,2038)"><g id="n39-1"><use href="#tR" x="84"/></g><g id="n39-2"><use href="#tR" x="136"/></g><g id="n39-3"><use href="#tR" x="188"/></g><g id="n39-4"><use href="#tR" x="240"/></g><g id="n39-5"><use href="#tR" x="292"/></g><g id="n39-6"><use href="#tR" x="344"/></g><g id="n39-7"><use href="#tR" x="396"/></g><g id="n39-8"><use href="#tR" x="448"/></g><g id="n39-9"><use href="#tR" x="500"/></g><g id="n39-10"><use href="#tR" x="552"/></g><g id="n39-11"><use href="#tR" x="604"/></g><g id="n39-12"><use href="#tR" x="656"/></g><g id="n39-13"><use href="#tR" x="708"/></g></g>
<g id="row40" transform="translate(0,2090)"><g id="n40-1"><use href="#tL" x="84"/></g><g id="n40-2"><use href="#lL" x="136"/></g><g id="n40-3"><use href="#lL" x="188"/></g><g id="n40-4"><use href="#tL" x="240"/></g><g id="n40-5"><use href="#tL" x="292"/></g><g id="n40-6"><use href="#tL" x="344"/></g><g id="n40-7"><use href="#tL" x="396"/></g><g id="n40-8"><use href="#tL" x="448"/></g><g id="n40-9"><use href="#tL" x="500"/></g><g id="n40-10"><use href="#tL" x="552"/></g><g id="n40-11"><use href="#tL" x="604"/></g><g id="n40-12"><use href="#tL" x="656"/></g><g id="n40-13"><use href="#tL" x="708"/></g></g>
<g id="row41" transform="translate(0,2142)"><g id="n41-1"><use href="#tR" x="84"/></g><g id="n41-2"><use href="#lR" x="136"/></g><g id="n41-3"><use href="#lR" x="188"/></g><g id="n41-4"><use href="#tR" x="240"/></g><g id="n41-5"><use href="#tR" x="292"/></g><g id="n41-6"><use href="#tR" x="344"/></g><g id="n41-7"><use href="#tR" x="396"/></g><g id="n41-8"><use href="#tR" x="448"/></g><g id="n41-9"><use href="#tR" x="500"/></g><g id="n41-10"><use href="#tR" x="552"/></g><g id="n41-11"><use href="#tR" x="604"/></g><g id="n41-12"><use href="#tR" x="656"/></g><g id="n41-13"><use href="#lR" x="708"/></g></g>
<g id="row42" transform="translate(0,2194)"><g id="n42-1"><use href="#tL" x="84"/></g><g id="n42-2"><use href="#tL" x="136"/></g><g id="n42-3"><use href="#tL" x="188"/></g><g id="n42-4"><use href="#tL" x="240"/></g><g id="n42-5"><use href="#tL" x="292"/></g><g id="n42-6"><use href="#tL" x="344"/></g><g id="n42-7"><use href="#tL" x="396"/></g><g id="n42-8"><use href="#tL" x="448"/></g><g id="n42-9"><use href="#tL" x="500"/></g><g id="n42-10"><use href="#tL" x="552"/></g><g id="n42-11"><use href="#tL" x="604"/></g><g id="n42-12"><use href="#tL" x="656"/></g><g id="n42-13"><use href="#tL" x="708"/></g></g>
<g id="row43" transform="translate(0,2246)"><g id="n43-1"><use href="#tR" x="84"/></g><g id="n43-2"><use href="#tR" x="136"/></g><g id="n43-3"><use href="#tR" x="188"/></g><g id="n43-4"><use href="#tR" x="240"/></g><g id="n43-5"><use href="#tR" x="292"/></g><g id="n43-6"><use href="#tR" x="344"/></g><g id="n43-7"><use href="#lR" x="396"/></g><g id="n43-8"><use href="#tR" x="448"/></g><g id="n43-9"><use href="#tR" x="500"/></g><g id="n43-10"><use href="#lR" x="552"/></g><g id="n43-11"><use href="#tR" x="604"/></g><g id="n43-12"><use href="#tR" x="656"/></g><g id="n43-13"><use href="#tR" x="708"/></g></g>
<g id="row44" transform="translate(0,2298)"><g id="n44-1"><use href="#tL" x="84"/></g><g id="n44-2"><use href="#lL" x="136"/></g><g id="n44-3"><use href="#tL" x="188"/></g><g id="n44-4"><use href="#tL" x="240"/></g><g id="n44-5"><use href="#tL" x="292"/></g><g id="n44-6"><use href="#tL" x="344"/></g><g id="n44-7"><use href="#tL" x="396"/></g><g id="n44-8"><use href="#tL" x="448"/></g><g id="n44-9"><use href="#tL" x="500"/></g><g id="n44-10"><use href="#tL" x="552"/></g><g id="n44-11"><use href="#tL" x="604"/></g><g id="n44-12"><use href="#tL" x="656"/></g><g id="n44-13"><use href="#tL" x="708"/></g></g>
<g id="row45" transform="translate(0,2350)"><g id="n45-1"><use href="#tR" x="84"/></g><g id="n45-2"><use href="#tR" x="136"/></g><g id="n45-3"><use href="#tR" x="188"/></g><g id="n45-4"><use href="#tR" x="240"/></g><g id="n45-5"><use href="#tR" x="292"/></g><g id="n45-6"><use href="#tR" x="344"/></g><g id="n45-7"><use href="#tR" x="396"/></g><g id="n45-8"><use href="#tR" x="448"/></g><g id="n45-9"><use href="#tR" x="500"/></g><g id="n45-10"><use href="#tR" x="552"/></g><g id="n45-11"><use href="#tR" x="604"/></g><g id="n45-12"><use href="#tR" x="656"/></g><g id="n45-13"><use href="#tR" x="708"/></g></g>
<g id="row46" transform="translate(0,2402)"><g id="n46-1"><use href="#tL" x="84"/></g><g id="n46-2"><use href="#tL" x="136"/></g><g id="n46-3"><use href="#tL" x="188"/></g><g id="n46-4"><use href="#tL" x="240"/></g><g id="n46-5"><use href="#tL" x="292"/></g><g id="n46-6"><use href="#tL" x="344"/></g><g id="n46-7"><use href="#tL" x="396"/></g><g id="n46-8"><use href="#tL" x="448"/></g><g id="n46-9"><use href="#tL" x="500"/></g><g id="n46-10"><use href="#tL" x="552"/></g><g id="n46-11"><use href="#tL" x="604"/></g><g id="n46-12"><use href="#tL" x="656"/></g><g id="n46-13"><use href="#tL" x="708"/></g></g>
<g id="row47" transform="translate(0,2454)"><g id="n47-1"><use href="#tR" x="84"/></g><g id="n47-2"><use href="#tR" x="136"/></g><g id="n47-3"><use href="#tR" x="188"/></g><g id="n47-4"><use href="#tR" x="240"/></g><g id="n47-5"><use href="#tR" x="292"/></g><g id="n47-6"><use href="#tR" x="344"/></g><g id="n47-7"><use href="#tR" x="396"/></g><g id="n47-8"><use href="#tR" x="448"/></g><g id="n47-9"><use href="#tR" x="500"/></g><g id="n47-10"><use href="#tR" x="552"/></g><g id="n47-11"><use href="#tR" x="604"/></g><g id="n47-12"><use href="#tR" x="656"/></g><g id="n47-13"><use href="#tR" x="708"/></g></g>
<g id="row48" transform="translate(0,2506)"><g id="n48-1"><use href="#tL" x="84"/></g><g id="n48-2"><use href="#tL" x="136"/></g><g id="n48-3"><use href="#tL" x="188"/></g><g id="n48-4"><use href="#tL" x="240"/></g><g id="n48-5"><use href="#lL" x="292"/></g><g id="n48-6"><use href="#tL" x="344"/></g><g id="n48-7"><use href="#tL" x="396"/></g><g id="n48-8"><use href="#tL" x="448"/></g><g id="n48-9"><use href="#tL" x="500"/></g><g id="n48-10"><use href="#tL" x="552"/></g><g id="n48-11"><use href="#tL" x="604"/></g><g id="n48-12"><use href="#tL" x="656"/></g><g id="n48-13"><use href="#tL" x="708"/></g></g>
<g id="row49" transform="translate(0,2558)"><g id="n49-1"><use href="#tR" x="84"/></g><g id="n49-2"><use href="#tR" x="136"/></g><g id="n49-3"><use href="#tR" x="188"/></g><g id="n49-4"><use href="#tR" x="240"/></g><g id="n49-5"><use href="#tR" x="292"/></g><g id="n49-6"><use href="#tR" x="344"/></g><g id="n49-7"><use href="#tR" x="396"/></g><g id="n49-8"><use href="#lR" x="448"/></g><g id="n49-9"><use href="#lR" x="500"/></g><g id="n49-10"><use href="#tR" x="552"/></g><g id="n49-11"><use href="#tR" x="604"/></g><g id="n49-12"><use href="#tR" x="656"/></g><g id="n49-13"><use href="#tR" x="708"/></g></g>
<g id="row50" transform="translate(0,2610)"><g id="n50-1"><use href="#tL" x="84"/></g><g id="n50-2"><use href="#tL" x="136"/></g><g id="n50-3"><use href="#tL" x="188"/></g><g id="n50-4"><use href="#tL" x="240"/></g><g id="n50-5"><use href="#tL" x="292"/></g><g id="n50-6"><use href="#tL" x="344"/></g><g id="n50-7"><use href="#tL" x="396"/></g><g id="n50-8"><use href="#lL" x="448"/></g><g id="n50-9"><use href="#lL" x="500"/></g><g id="n50-10"><use href="#tL" x="552"/></g><g id="n50-11"><use href="#tL" x="604"/></g><g id="n50-12"><use href="#tL" x="656"/></g><g id="n50-13"><use href="#tL" x="708"/></g></g>
<g id="row51" transform="translate(0,2662)"><g id="n51-1"><use href="#tR" x="84"/></g><g id="n51-2"><use href="#tR" x="136"/></g><g id="n51-3"><use href="#tR" x="188"/></g><g id="n51-4"><use href="#tR" x="240"/></g><g id="n51-5"><use href="#tR" x="292"/></g><g id="n51-6"><use href="#tR" x="344"/></g><g id="n51-7"><use href="#tR" x="396"/></g><g id="n51-8"><use href="#tR" x="448"/></g><g id="n51-9"><use href="#tR" x="500"/></g><g id="n51-10"><use href="#tR" x="552"/></g><g id="n51-11"><use href="#tR" x="604"/></g><g id="n51-12"><use href="#tR" x="656"/></g><g id="n51-13"><use href="#tR" x="708"/></g></g>
<g id="row52" transform="translate(0,2714)"><g id="n52-1"><use href="#tL" x="84"/></g><g id="n52-2"><use href="#tL" x="136"/></g><g id="n52-3"><use href="#tL" x="188"/></g><g id="n52-4"><use href="#tL" x="240"/></g><g id="n52-5"><use href="#tL" x="292"/></g><g id="n52-6"><use href="#tL" x="344"/></g><g id="n52-7"><use href="#tL" x="396"/></g><g id="n52-8"><use href="#tL" x="448"/></g><g id="n52-9"><use href="#tL" x="500"/></g><g id="n52-10"><use href="#tL" x="552"/></g><g id="n52-11"><use href="#tL" x="604"/></g><g id="n52-12"><use href="#tL" x="656"/></g><g id="n52-13"><use href="#tL" x="708"/></g></g>
<g id="row53" transform="translate(0,2766)"><g id="n53-1"><use href="#tR" x="84"/></g><g id="n53-2"><use href="#tR" x="136"/></g><g id="n53-3"><use href="#lR" x="188"/></g><g id="n53-4"><use href="#tR" x="240"/></g><g id="n53-5"><use href="#tR" x="292"/></g><g id="n53-6"><use href="#tR" x="344"/></g><g id="n53-7"><use href="#tR" x="396"/></g><g id="n53-8"><use href="#tR" x="448"/></g><g id="n53-9"><use href="#tR" x="500"/></g><g id="n53-10"><use href="#tR" x="552"/></g><g id="n53-11"><use href="#lR" x="604"/></g><g id="n53-12"><use href="#tR" x="656"/></g><g id="n53-13"><use href="#tR" x="708"/></g></g>
<g id="row54" transform="translate(0,2818)"><g id="n54-1"><use href="#tL" x="84"/></g><g id="n54-2"><use href="#tL" x="136"/></g><g id="n54-3"><use href="#tL" x="188"/></g><g id="n54-4"><use href="#tL" x="240"/></g><g id="n54-5"><use href="#tL" x="292"/></g><g id="n54-6"><use href="#tL" x="344"/></g><g id="n54-7"><use href="#lL" x="396"/></g><g id="n54-8"><use href="#tL" x="448"/></g><g id="n54-9"><use href="#tL" x="500"/></g><g id="n54-10"><use href="#tL" x="552"/></g><g id="n54-11"><use href="#tL" x="604"/></g><g id="n54-12"><use href="#tL" x="656"/></g><g id="n54-13"><use href="#tL" x="708"/></g></g>
<g id="row55" transform="translate(0,2870)"><g id="n55-1"><use href="#tR" x="84"/></g><g id="n55-2"><use href="#tR" x="136"/></g><g id="n55-3"><use href="#tR" x="188"/></g><g id="n55-4"><use href="#tR" x="240"/></g><g id="n55-5"><use href="#tR" x="292"/></g><g id="n55-6"><use href="#tR" x="344"/></g><g id="n55-7"><use href="#tR" x="396"/></g><g id="n55-8"><use href="#tR" x="448"/></g><g id="n55-9"><use href="#tR" x="500"/></g><g id="n55-10"><use href="#tR" x="552"/></g><g id="n55-11"><use href="#tR" x="604"/></g><g id="n55-12"><use href="#tR" x="656"/></g><g id="n55-13"><use href="#tR" x="708"/></g></g>
<g id="row56" transform="translate(0,2922)"><g id="n56-1"><use href="#tL" x="84"/></g><g id="n56-2"><use href="#tL" x="136"/></g><g id="n56-3"><use href="#tL" x="188"/></g><g id="n56-4"><use href="#tL" x="240"/></g><g id="n56-5"><use href="#tL" x="292"/></g><g id="n56-6"><use href="#tL" x="344"/></g><g id="n56-7"><use href="#tL" x="396"/></g><g id="n56-8"><use href="#tL" x="448"/></g><g id="n56-9"><use href="#tL" x="500"/></g><g id="n56-10"><use href="#tL" x="552"/></g><g id="n56-11"><use href="#tL" x="604"/></g><g id="n56-12"><use href="#tL" x="656"/></g><g id="n56-13"><use href="#tL" x="708"/></g></g>
</g>
<text class="wm" x="396" y="1497" text-anchor="middle" textLength="153" lengthAdjust="spacingAndGlyphs">BRACELETBOOK.COM</text>
</svg>
